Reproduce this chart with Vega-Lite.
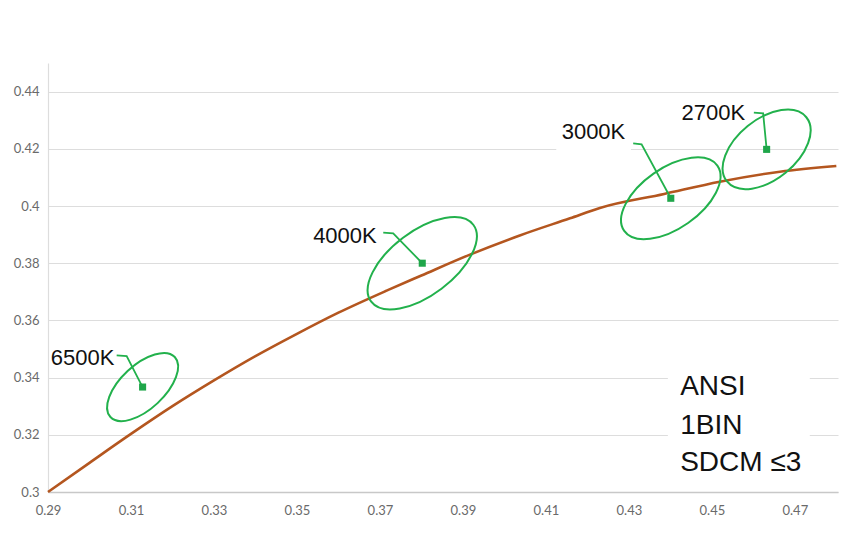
{
  "$schema": "https://vega.github.io/schema/vega-lite/v6.json",
  "width": 790,
  "height": 429,
  "padding": {"left": 0, "top": 63, "right": 0, "bottom": 0},
  "background": "white",
  "config": {"view": {"stroke": null}},
  "datasets": {
    "locus": [
      {"x": 0.2900, "y": 0.3000},
      {"x": 0.3000, "y": 0.3102},
      {"x": 0.3100, "y": 0.3203},
      {"x": 0.3200, "y": 0.3300},
      {"x": 0.3300, "y": 0.3390},
      {"x": 0.3400, "y": 0.3475},
      {"x": 0.3500, "y": 0.3553},
      {"x": 0.3600, "y": 0.3627},
      {"x": 0.3716, "y": 0.3704},
      {"x": 0.3800, "y": 0.3757},
      {"x": 0.3917, "y": 0.3830},
      {"x": 0.4037, "y": 0.3897},
      {"x": 0.4158, "y": 0.3957},
      {"x": 0.4230, "y": 0.3993},
      {"x": 0.4385, "y": 0.4042},
      {"x": 0.4519, "y": 0.4085},
      {"x": 0.4664, "y": 0.4120},
      {"x": 0.4800, "y": 0.4140}
    ],
    "points": [
      {"name": "6500K", "x": 0.3128, "y": 0.3367, "semiMajor": 0.0106, "tilt": 43, "lx": 0.29065, "ly": 0.3445},
      {"name": "4000K", "x": 0.3802, "y": 0.3800, "semiMajor": 0.0154, "tilt": 37, "lx": 0.3539, "ly": 0.3872},
      {"name": "3000K", "x": 0.4401, "y": 0.4027, "semiMajor": 0.0137, "tilt": 35, "lx": 0.4138, "ly": 0.4233},
      {"name": "2700K", "x": 0.4632, "y": 0.4198, "semiMajor": 0.0123, "tilt": 39, "lx": 0.4427, "ly": 0.4301}
    ],
    "leaders": [
      {"name": "6500K", "seq": 1, "x": 0.30655, "y": 0.3478},
      {"name": "6500K", "seq": 2, "x": 0.30896, "y": 0.34755},
      {"name": "6500K", "seq": 3, "x": 0.3128, "y": 0.3367},
      {"name": "4000K", "seq": 1, "x": 0.3708, "y": 0.39066},
      {"name": "4000K", "seq": 2, "x": 0.3732, "y": 0.39045},
      {"name": "4000K", "seq": 3, "x": 0.3802, "y": 0.3800},
      {"name": "3000K", "seq": 1, "x": 0.43104, "y": 0.42192},
      {"name": "3000K", "seq": 2, "x": 0.43306, "y": 0.42157},
      {"name": "3000K", "seq": 3, "x": 0.4401, "y": 0.4027},
      {"name": "2700K", "seq": 1, "x": 0.46012, "y": 0.43262},
      {"name": "2700K", "seq": 2, "x": 0.46236, "y": 0.43241},
      {"name": "2700K", "seq": 3, "x": 0.4632, "y": 0.4198}
    ],
    "boxes": [
      {"x": 0.4394, "x2": 0.4736, "y": 0.305, "y2": 0.347},
      {"x": 0.4125, "x2": 0.4305, "y": 0.4195, "y2": 0.4285}
    ],
    "notes": [
      {"text": "ANSI", "x": 0.44236, "y": 0.33381},
      {"text": "1BIN", "x": 0.44236, "y": 0.32038},
      {"text": "SDCM ≤3", "x": 0.44236, "y": 0.30745}
    ]
  },
  "encoding": {
    "x": {
      "field": "x", "type": "quantitative",
      "scale": {"domain": [0.29, 0.4804], "nice": false, "zero": false},
      "axis": {
        "title": null, "values": [0.29, 0.31, 0.33, 0.35, 0.37, 0.39, 0.41, 0.43, 0.45, 0.47],
        "format": ".2f", "grid": false, "ticks": false, "labelFlush": false,
        "domainColor": "#c8c8c8", "domainWidth": 1.5,
        "labelFont": "Lato", "labelFontSize": 13, "labelColor": "#6a6a6a", "labelPadding": 12
      }
    },
    "y": {
      "field": "y", "type": "quantitative",
      "scale": {"domain": [0.3, 0.45], "nice": false, "zero": false},
      "axis": {
        "title": null, "values": [0.3, 0.32, 0.34, 0.36, 0.38, 0.4, 0.42, 0.44],
        "format": ".2~f", "grid": true, "gridColor": "#dddddd", "gridWidth": 1.2, "ticks": false,
        "domainColor": "#dddddd", "domainWidth": 1.2,
        "labelFont": "Lato", "labelFontSize": 13, "labelColor": "#6a6a6a", "labelPadding": 9,
        "minExtent": 48, "maxExtent": 48
      }
    }
  },
  "layer": [
    {
      "data": {"name": "boxes"},
      "mark": {"type": "rect", "fill": "white", "stroke": null},
      "encoding": {"x2": {"field": "x2"}, "y2": {"field": "y2"}}
    },
    {
      "data": {"name": "locus"},
      "mark": {"type": "line", "color": "#b4561f", "strokeWidth": 2.6, "interpolate": "monotone"},
      "encoding": {}
    },
    {
      "data": {"name": "points"},
      "mark": {"type": "point", "filled": false, "stroke": "#22b14c", "strokeWidth": 2, "opacity": 1},
      "encoding": {
        "shape": {
          "field": "name", "type": "nominal", "legend": null,
          "scale": {
            "domain": ["6500K", "4000K", "3000K", "2700K"],
            "range": [
              "M-1,0C-1,-0.2762 -0.5523,-0.5 0,-0.5C0.5523,-0.5 1,-0.2762 1,0C1,0.2762 0.5523,0.5 0,0.5C-0.5523,0.5 -1,0.2762 -1,0Z",
              "M-1,0C-1,-0.2762 -0.5523,-0.5 0,-0.5C0.5523,-0.5 1,-0.2762 1,0C1,0.2762 0.5523,0.5 0,0.5C-0.5523,0.5 -1,0.2762 -1,0Z",
              "M-1,0C-1,-0.2927 -0.5523,-0.53 0,-0.53C0.5523,-0.53 1,-0.2927 1,0C1,0.2927 0.5523,0.53 0,0.53C-0.5523,0.53 -1,0.2927 -1,0Z",
              "M-1,0C-1,-0.3259 -0.5523,-0.59 0,-0.59C0.5523,-0.59 1,-0.3259 1,0C1,0.3259 0.5523,0.59 0,0.59C-0.5523,0.59 -1,0.3259 -1,0Z"
            ]
          }
        },
        "size": {
          "field": "semiMajor", "type": "quantitative", "legend": null,
          "scale": {"type": "pow", "exponent": 2, "domain": [0, 0.01], "range": [0, 6889]}
        },
        "angle": {
          "field": "tilt", "type": "quantitative", "legend": null,
          "scale": {"domain": [0, 360], "range": [360, 0]}
        }
      }
    },
    {
      "data": {"name": "leaders"},
      "mark": {"type": "line", "color": "#22b14c", "strokeWidth": 1.8},
      "encoding": {
        "detail": {"field": "name", "type": "nominal"},
        "order": {"field": "seq", "type": "quantitative"}
      }
    },
    {
      "data": {"name": "points"},
      "mark": {"type": "square", "size": 50, "color": "#1fa64a", "opacity": 1, "filled": true},
      "encoding": {}
    },
    {
      "data": {"name": "points"},
      "mark": {"type": "text", "align": "left", "baseline": "alphabetic", "font": "Liberation Sans", "fontSize": 22, "color": "#111111"},
      "encoding": {
        "x": {"field": "lx", "type": "quantitative"},
        "y": {"field": "ly", "type": "quantitative"},
        "text": {"field": "name", "type": "nominal"}
      }
    },
    {
      "data": {"name": "notes"},
      "mark": {"type": "text", "align": "left", "baseline": "alphabetic", "font": "Liberation Sans", "fontSize": 28, "color": "#111111"},
      "encoding": {"text": {"field": "text", "type": "nominal"}}
    }
  ]
}
